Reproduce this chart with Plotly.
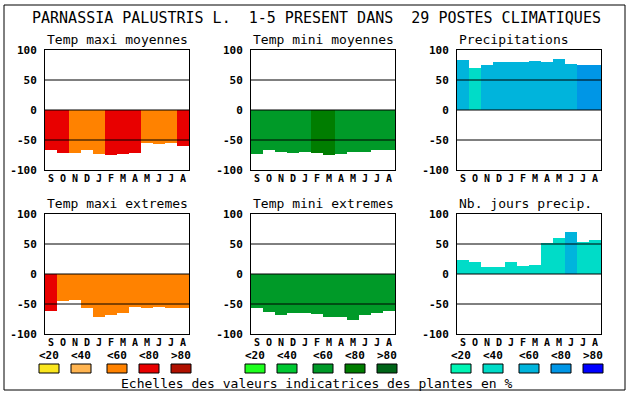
import plotly.graph_objects as go

# ---------------- data ----------------
months = ["S", "O", "N", "D", "J", "F", "M", "A", "M", "J", "J", "A"]
panel_titles = ["Temp maxi moyennes", "Temp mini moyennes", "Precipitations",
                "Temp maxi extremes", "Temp mini extremes", "Nb. jours precip."]

temp_maxi_moy = [-67, -71, -71, -67, -74, -75.5, -74, -71, -55.5, -57, -55.5, -60.5]
temp_mini_moy = [-74, -66, -70.5, -72, -70.5, -72, -75.5, -74, -70.5, -70.5, -67, -67]
precipitations = [84, 70.5, 75.5, 80.5, 80.5, 80.5, 82, 80.5, 85.5, 77, 75.5, 75.5]
temp_maxi_ext = [-61, -44.5, -43, -56, -71, -68, -64.5, -54.5, -56, -54.5, -56, -56]
temp_mini_ext = [-56, -63, -68, -64.5, -64.5, -66, -71, -71, -76, -68, -64.5, -61]
nb_jours_precip = [23, 20, 12, 12, 20, 13.3, 15, 51.7, 60, 70, 53.3, 56.7]

# indicator class (0:<20, 1:<40, 2:<60, 3:<80, 4:>80) of each bar
cls_maxi_moy = [3, 3, 2, 2, 2, 3, 3, 3, 2, 2, 2, 3]
cls_mini_moy = [2, 2, 2, 2, 2, 3, 3, 2, 2, 2, 2, 2]
cls_precip = [2, 1, 2, 2, 2, 2, 2, 2, 2, 2, 3, 3]
cls_maxi_ext = [3, 2, 2, 2, 2, 2, 2, 2, 2, 2, 2, 2]
cls_mini_ext = [2, 2, 2, 2, 2, 2, 2, 2, 2, 2, 2, 2]
cls_jours = [1, 1, 1, 1, 1, 1, 1, 1, 1, 2, 1, 1]

legend_labels = ["<20", "<40", "<60", "<80", ">80"]
pal_red = ["#fae61e", "#ffb450", "#ff8200", "#e80000", "#b01000"]
pal_green = ["#1eff1e", "#00c832", "#009a28", "#007d00", "#006418"]
pal_blue = ["#00f5b4", "#00dcc8", "#00b4dc", "#0096e6", "#0000ff"]

y_ticks = [-100, -50, 0, 50, 100]
main_title = "PARNASSIA PALUSTRIS L.  1-5 PRESENT DANS  29 POSTES CLIMATIQUES"
footer = "Echelles des valeurs indicatrices des plantes en %"

# ---------------- layout ----------------
W, H = 630, 394
col_left = [45, 251, 457]
pw = 144
row_top = [50, 214]
ph = 120

series = [temp_maxi_moy, temp_mini_moy, precipitations,
          temp_maxi_ext, temp_mini_ext, nb_jours_precip]
classes = [cls_maxi_moy, cls_mini_moy, cls_precip,
           cls_maxi_ext, cls_mini_ext, cls_jours]
palettes = [pal_red, pal_green, pal_blue]

mono = "DejaVu Sans Mono"
fig = go.Figure()
shapes = []
annotations = []

for i in range(6):
    r, c = divmod(i, 3)
    ax = "" if i == 0 else str(i + 1)
    pal = palettes[c]
    fig.add_trace(go.Bar(
        x=list(range(12)), y=series[i],
        marker=dict(color=[pal[k] for k in classes[i]], line=dict(width=0)),
        xaxis="x" + ax, yaxis="y" + ax, showlegend=False, hoverinfo="skip",
    ))
    x0 = col_left[c] / W
    x1 = (col_left[c] + pw) / W
    y1 = 1 - row_top[r] / H
    y0 = 1 - (row_top[r] + ph) / H
    fig.layout["xaxis" + ax] = dict(
        domain=[x0, x1], anchor="y" + ax, range=[-0.5, 11.5],
        tickvals=list(range(12)), ticktext=months, ticks="",
        showgrid=False, zeroline=False, showline=True, mirror=True,
        linecolor="black", linewidth=1, fixedrange=True, automargin=False,
        tickfont=dict(family=mono, size=10, color="black", weight="bold"),
        ticklabelstandoff=-1,
    )
    fig.layout["yaxis" + ax] = dict(
        domain=[y0, y1], anchor="x" + ax, range=[-100, 100],
        tickvals=y_ticks, ticktext=[str(v) for v in y_ticks], ticks="",
        showgrid=False, zeroline=False, showline=True, mirror=True,
        linecolor="black", linewidth=1, fixedrange=True, automargin=False,
        tickfont=dict(family=mono, size=11, color="black", weight="bold"),
        ticklabelstandoff=5,
    )
    for gv in (50, 0, -50):
        shapes.append(dict(type="line", xref="x" + ax + " domain", yref="y" + ax,
                           x0=0, x1=1, y0=gv, y1=gv, layer="above",
                           line=dict(color="black", width=1)))
    annotations.append(dict(
        text=panel_titles[i], xref="paper", yref="paper",
        x=col_left[c] / W, y=1 - (row_top[r] - 11) / H,
        xanchor="left", yanchor="middle", showarrow=False,
        font=dict(family=mono, size=13, color="black"),
    ))

# legend scales
box_off = [-6, 26, 62, 94, 126]
for c in range(3):
    for k in range(5):
        bx = col_left[c] + box_off[k]
        shapes.append(dict(type="rect", xref="paper", yref="paper",
                           x0=bx / W, x1=(bx + 20) / W,
                           y0=1 - 373 / H, y1=1 - 364 / H,
                           fillcolor=palettes[c][k],
                           line=dict(color="black", width=1)))
        annotations.append(dict(
            text=legend_labels[k], xref="paper", yref="paper",
            x=(bx + 10) / W, y=1 - 355 / H, xanchor="center", yanchor="middle",
            showarrow=False,
            font=dict(family=mono, size=11, color="black", weight="bold"),
        ))

annotations.append(dict(
    text=main_title, xref="paper", yref="paper", x=316 / W, y=1 - 18 / H,
    xanchor="center", yanchor="middle", showarrow=False,
    font=dict(family=mono, size=15, color="black"),
))
annotations.append(dict(
    text=footer, xref="paper", yref="paper", x=317 / W, y=1 - 383 / H,
    xanchor="center", yanchor="middle", showarrow=False,
    font=dict(family=mono, size=13, color="black"),
))

shapes.append(dict(type="rect", xref="paper", yref="paper",
                   x0=4 / W, x1=625 / W, y0=1 - 390 / H, y1=1 - 5 / H,
                   line=dict(color="black", width=1)))

fig.update_layout(
    width=W, height=H, margin=dict(l=0, r=0, t=0, b=0),
    paper_bgcolor="white", plot_bgcolor="white", template="none",
    bargap=0, shapes=shapes, annotations=annotations,
)

fig.write_html(
    "out.html",
    config={"displayModeBar": False},
    post_script="document.body.style.margin='0px';document.body.style.overflow='hidden';",
)
